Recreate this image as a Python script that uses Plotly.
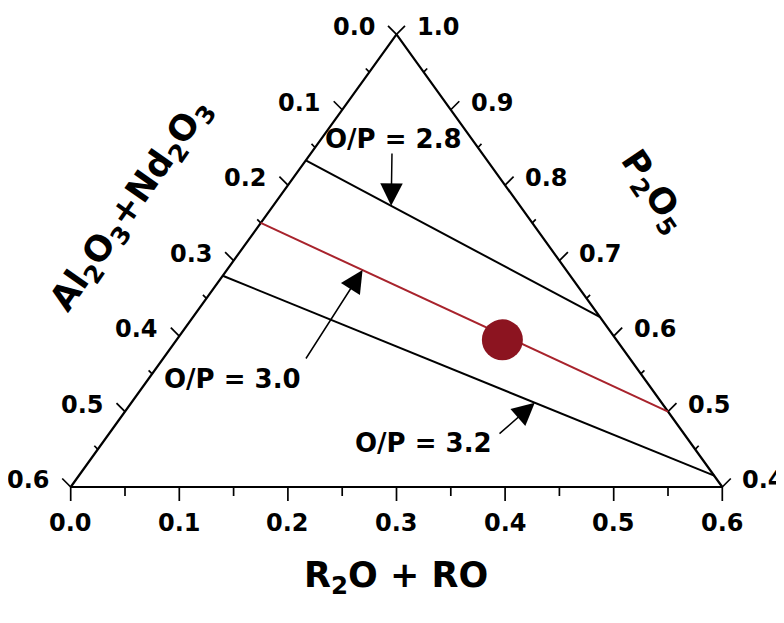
import plotly.graph_objects as go

# ---------------- data ----------------
bottom_ticks = [0.0, 0.1, 0.2, 0.3, 0.4, 0.5, 0.6]      # R2O + RO
left_ticks = [0.0, 0.1, 0.2, 0.3, 0.4, 0.5, 0.6]        # Al2O3+Nd2O3
right_ticks = [1.0, 0.9, 0.8, 0.7, 0.6, 0.5, 0.4]       # P2O5
minor_fracs = [0.05, 0.15, 0.25, 0.35, 0.45, 0.55]

op_labels = ["O/P = 2.8", "O/P = 3.0", "O/P = 3.2"]
op_left_al = [0.167, 0.25, 0.32]        # Al2O3+Nd2O3 where line meets left edge
op_right_p2o5 = [0.625, 0.50, 0.415]    # P2O5 where line meets right edge
op_arrow_t = [0.29, 0.25, 0.635]        # position of arrow tip along each line

glass_p2o5 = [0.595]
glass_al = [0.105]
glass_r2o = [0.30]

# ---------------- geometry / styles ----------------
PAGE_W, PAGE_H = 784, 623
OFF = 8                      # browser body margin
W, H = PAGE_W - OFF, PAGE_H - OFF
X0_PX, X1_PX = 70.7, 722.3   # page pixels of bottom-left / bottom-right vertex
YB_PX, YT_PX = 487.0, 34.3   # page pixels of base / apex
SX = (X1_PX - X0_PX) / 0.6
SY = (YB_PX - YT_PX) / 0.6
FONT = "DejaVu Sans"
RED = "#a8232c"
DARKRED = "#8c1420"


def xy(p2o5, r2o):
    """ternary (P2O5 from 0.4 to 1) -> cartesian"""
    pp = p2o5 - 0.4
    return r2o + pp / 2.0, pp


def left_pt(al):
    return xy(1.0 - al, 0.0)


def right_pt(p):
    return xy(p, 1.0 - p)


def bottom_pt(r):
    return xy(0.4, r)


def px_vec(dx, dy):
    return dx / SX, -dy / SY


def px2data(px, py):
    return (px - X0_PX) / SX, (YB_PX - py) / SY


def px2paper(px, py):
    return (px - OFF) / W, 1 - (py - OFF) / H


fig = go.Figure()

# triangle frame
verts = [xy(1.0, 0.0), xy(0.4, 0.0), xy(0.4, 0.6), xy(1.0, 0.0)]
fig.add_trace(go.Scatter(x=[v[0] for v in verts], y=[v[1] for v in verts],
                         mode="lines", line=dict(color="black", width=2.2),
                         hoverinfo="skip", showlegend=False))

# ticks
tx, ty = [], []


def seg(p, d):
    tx.extend([p[0], p[0] + d[0], None])
    ty.extend([p[1], p[1] + d[1], None])


k = 0.7071
for v in bottom_ticks:
    seg(bottom_pt(v), px_vec(0, 14))
for v in minor_fracs:
    seg(bottom_pt(v), px_vec(0, 9))
for v in left_ticks:
    seg(left_pt(v), px_vec(-k * 12, -k * 12))
for v in minor_fracs:
    seg(left_pt(v), px_vec(-k * 5, -k * 5))
for v in right_ticks:
    seg(right_pt(v), px_vec(k * 12, -k * 12))
for v in minor_fracs:
    seg(right_pt(1.0 - v), px_vec(k * 5, -k * 5))

fig.add_trace(go.Scatter(x=tx, y=ty, mode="lines",
                         line=dict(color="black", width=1.7),
                         hoverinfo="skip", showlegend=False))

# O/P lines
for i, (lab, al, p) in enumerate(zip(op_labels, op_left_al, op_right_p2o5)):
    a = left_pt(al)
    b = right_pt(p)
    col = RED if i == 1 else "black"
    fig.add_trace(go.Scatter(x=[a[0], b[0]], y=[a[1], b[1]], mode="lines",
                             line=dict(color=col, width=2),
                             name=lab, hoverinfo="name", showlegend=False))

# glass composition
gx, gy = [], []
for p, r in zip(glass_p2o5, glass_r2o):
    x_, y_ = xy(p, r)
    gx.append(x_)
    gy.append(y_)
fig.add_trace(go.Scatter(x=gx, y=gy, mode="markers",
                         marker=dict(size=41, color=DARKRED, line=dict(width=0)),
                         hoverinfo="skip", showlegend=False))

annotations = []
# tick labels
TF = dict(family=FONT, size=24, color="black")
for v in bottom_ticks:
    x_, y_ = bottom_pt(v)
    annotations.append(dict(x=x_, y=y_, xref="x", yref="y", text=f"<b>{v:.1f}</b>",
                            showarrow=False, xanchor="center", yanchor="middle",
                            yshift=-36, font=TF))
for v in left_ticks:
    x_, y_ = left_pt(v)
    annotations.append(dict(x=x_, y=y_, xref="x", yref="y", text=f"<b>{v:.1f}</b>",
                            showarrow=False, xanchor="right", yanchor="middle",
                            xshift=-19, yshift=7, font=TF))
for v in right_ticks:
    x_, y_ = right_pt(v)
    annotations.append(dict(x=x_, y=y_, xref="x", yref="y", text=f"<b>{v:.1f}</b>",
                            showarrow=False, xanchor="left", yanchor="middle",
                            xshift=18, yshift=7, font=TF))

# O/P labels and arrows
OF = dict(family=FONT, size=26, color="black")
label_px = [(393, 139), (232, 379), (423, 443)]
tail_px = [(392, 152), (305, 360), (498, 435)]
for lab, al, p, t, lp, tp in zip(op_labels, op_left_al, op_right_p2o5, op_arrow_t,
                                 label_px, tail_px):
    a = left_pt(al)
    b = right_pt(p)
    tip = (a[0] + t * (b[0] - a[0]), a[1] + t * (b[1] - a[1]))
    lx, ly = px2data(*lp)
    annotations.append(dict(x=lx, y=ly, xref="x", yref="y", text=f"<b>{lab}</b>",
                            showarrow=False, xanchor="center", yanchor="middle",
                            font=OF))
    tx_, ty_ = px2data(*tp)
    annotations.append(dict(x=tip[0], y=tip[1], xref="x", yref="y", text="",
                            showarrow=True, ax=tx_, ay=ty_, axref="x", ayref="y",
                            arrowhead=2, arrowsize=3.0, arrowwidth=1.5,
                            arrowcolor="black", standoff=0, startstandoff=0))

# axis titles
TT = dict(family=FONT, size=35, color="black")
x_, y_ = px2paper(396, 577)
annotations.append(dict(x=x_, y=y_, xref="paper", yref="paper",
                        text="<b>R<sub>2</sub>O + RO</b>", showarrow=False,
                        xanchor="center", yanchor="middle", font=TT))
x_, y_ = px2paper(131.5, 205)
annotations.append(dict(x=x_, y=y_, xref="paper", yref="paper",
                        text="<b>Al<sub>2</sub>O<sub>3</sub>+Nd<sub>2</sub>O<sub>3</sub></b>",
                        showarrow=False, xanchor="center", yanchor="middle",
                        textangle=-55, font=TT))
x_, y_ = px2paper(652.5, 191.7)
annotations.append(dict(x=x_, y=y_, xref="paper", yref="paper",
                        text="<b>P<sub>2</sub>O<sub>5</sub></b>", showarrow=False,
                        xanchor="center", yanchor="middle", textangle=56, font=TT))

fig.update_layout(
    width=W, height=H, autosize=False,
    margin=dict(l=0, r=0, t=0, b=0, pad=0),
    paper_bgcolor="white", plot_bgcolor="white",
    xaxis=dict(range=[(OFF - X0_PX) / SX, (PAGE_W - X0_PX) / SX],
               visible=False, fixedrange=True),
    yaxis=dict(range=[(YB_PX - PAGE_H) / SY, (YB_PX - OFF) / SY],
               visible=False, fixedrange=True),
    annotations=annotations,
    showlegend=False,
)

fig.write_html("out.html")
